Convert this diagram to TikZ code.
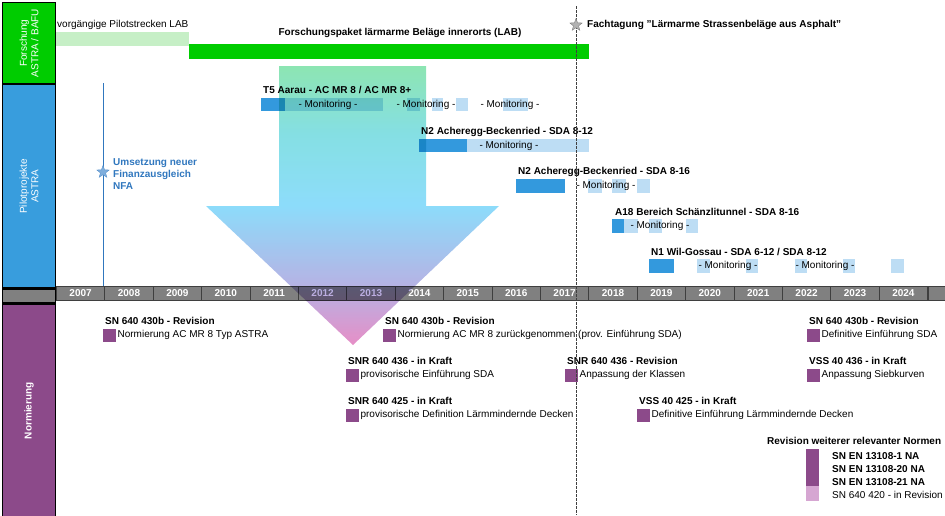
\documentclass[tikz,border=0pt]{standalone}
\usepackage{fontspec}
\setmainfont{Liberation Sans}
\usetikzlibrary{positioning}
\usetikzlibrary{shapes.geometric}

\definecolor{forschgreen}{HTML}{00CC00}
\definecolor{forschlight}{HTML}{C6EFC6}
\definecolor{pilotblue}{HTML}{389DDD}
\definecolor{pilotdark}{HTML}{3399DD}
\definecolor{pilotlight}{HTML}{BDDDF4}
\definecolor{yeargray}{HTML}{808080}
\definecolor{yeardark}{HTML}{3F3F3F}
\definecolor{normviolet}{HTML}{8C4A8A}
\definecolor{normlight}{HTML}{D6A6D2}
\definecolor{nfablue}{HTML}{3077BE}
\definecolor{starblue}{HTML}{7FAEDC}
\definecolor{agreen}{HTML}{80E2AA}
\definecolor{ateal}{HTML}{78DCE0}
\definecolor{ablue}{HTML}{80D8FA}
\definecolor{alilac}{HTML}{B0A8E0}
\definecolor{apink}{HTML}{E482C0}

\pgfdeclareverticalshading{arrowgrad}{100bp}{color(0bp)=(apink); color(25bp)=(apink);
  color(35bp)=(alilac); color(50bp)=(ablue); color(63bp)=(ateal); color(75bp)=(agreen);
  color(100bp)=(agreen)}

\begin{document}
\begin{tikzpicture}[x=1pt,y=-1pt,
    every node/.style={font=\fontsize{10}{11.5}\selectfont},
    lane/.style={draw=black,line width=1.2pt,anchor=north west,minimum width=53pt,inner sep=0pt},
    lanetext/.style={rotate=90,text=white,align=center,inner sep=0pt},
    yearcell/.style={draw=yeardark,line width=0.8pt,fill=yeargray,text=white,anchor=north west,
      font=\fontsize{10}{12}\selectfont\bfseries,minimum width=48.4pt,minimum height=14pt,inner sep=0pt},
    ttl/.style={anchor=west,inner sep=0pt,font=\fontsize{10}{12}\selectfont\bfseries},
    txt/.style={anchor=west,inner sep=0pt},
    mon/.style={inner sep=0pt},
    normsq/.style={fill=normviolet,anchor=north west,minimum width=13pt,minimum height=13pt,inner sep=0pt},
    mstar/.style={star,star points=5,star point ratio=2.4,minimum size=13pt,inner sep=0pt},
  ]
  \useasboundingbox (0,0) rectangle (945,515);

  % lanes on the left
  \node[lane,fill=forschgreen,minimum height=81pt] (forsch) at (2,2) {};
  \node[lane,fill=pilotblue,minimum height=203pt,below=0pt of forsch] (pilot) {};
  \node[lane,fill=yeargray,minimum height=14pt,below=0pt of pilot] (yleft) {};
  \node[lane,fill=normviolet,minimum height=213pt,below=0pt of yleft] (norm) {};
  \node[lanetext] (forschlbl) at (forsch) {Forschung\\ASTRA / BAFU};
  \node[lanetext] (pilotlbl) at (pilot) {Pilotprojekte\\ASTRA};
  \node[lanetext,font=\fontsize{10}{12}\selectfont\bfseries] (normlbl) at (norm) {Normierung};

  % years
  \foreach \yr [count=\k from 0] in {2007,...,2024}
    \node[yearcell] (y\yr) at ({56+\k*48.4},286) {\yr};
  \node[yearcell,minimum width=24pt] (yend) at (y2024.north east) {};

  % Forschung
  \fill[forschlight] (56,32) rectangle (189,46);
  \fill[forschgreen] (189,44) rectangle (589,59);
  \node[txt] (prelab) at (57,25) {vorgängige Pilotstrecken LAB};
  \node[ttl,anchor=center] (lab) at (400,33) {Forschungspaket lärmarme Beläge innerorts (LAB)};

  % NFA
  \coordinate (nfatop) at (103,83);
  \coordinate (nfabot) at (103,286);
  \draw[nfablue,line width=0.8pt] (nfatop) -- (nfabot);
  \node[mstar,fill=starblue,draw=nfablue!80,line width=0.4pt] (nfastar) at (103,172) {};
  \node[ttl,text=nfablue,align=left] (nfa) at (113,174) {Umsetzung neuer\\Finanzausgleich\\NFA};

  % Pilotprojekte
  \fill[pilotdark] (261,98) rectangle (285,111);
  \foreach \a/\b in {285/383,407/420,432/443,456/468,503/528}
    \fill[pilotlight] (\a,98) rectangle (\b,111);
  \node[ttl] (t5) at (263,90) {T5 Aarau - AC MR 8 / AC MR 8+};
  \node[mon] (t5m1) at (328,104.5) {- Monitoring -};
  \node[mon] (t5m2) at (426,104.5) {- Monitoring -};
  \node[mon] (t5m3) at (510,104.5) {- Monitoring -};

  \fill[pilotdark] (419,139) rectangle (467,152);
  \fill[pilotlight] (467,139) rectangle (589,152);
  \node[ttl] (n2a) at (421,132) {N2 Acheregg-Beckenried - SDA 8-12};
  \node[mon] (n2am) at (509,145.5) {- Monitoring -};

  \fill[pilotdark] (516,179) rectangle (565,193);
  \foreach \a/\b in {588/602,612/626,637/650}
    \fill[pilotlight] (\a,179) rectangle (\b,193);
  \node[ttl] (n2b) at (518,172) {N2 Acheregg-Beckenried - SDA 8-16};
  \node[mon] (n2bm) at (606,186) {- Monitoring -};

  \fill[pilotdark] (612,219) rectangle (624,233);
  \foreach \a/\b in {624/638,649/662,686/698}
    \fill[pilotlight] (\a,219) rectangle (\b,233);
  \node[ttl] (a18) at (615,212) {A18 Bereich Schänzlitunnel - SDA 8-16};
  \node[mon] (a18m) at (660,226) {- Monitoring -};

  \fill[pilotdark] (649,259) rectangle (674,273);
  \foreach \a/\b in {697/710,746/758,795/807,843/855,891/904}
    \fill[pilotlight] (\a,259) rectangle (\b,273);
  \node[ttl] (n1) at (651,252) {N1 Wil-Gossau - SDA 6-12 / SDA 8-12};
  \node[mon] (n1m1) at (728,266) {- Monitoring -};
  \node[mon] (n1m2) at (825,266) {- Monitoring -};

  % Normierung
  \foreach \nx/\ny/\nn/\nt/\nd in {
      103/321/a/{SN 640 430b - Revision}/{Normierung AC MR 8 Typ ASTRA},
      383/321/b/{SN 640 430b - Revision}/{Normierung AC MR 8 zurückgenommen (prov. Einführung SDA)},
      346/361/c/{SNR 640 436 - in Kraft}/{provisorische Einführung SDA},
      346/401/d/{SNR 640 425 - in Kraft}/{provisorische Definition Lärmmindernde Decken},
      565/361/e/{SNR 640 436 - Revision}/{Anpassung der Klassen},
      637/401/f/{VSS 40 425 - in Kraft}/{Definitive Einführung Lärmmindernde Decken},
      807/321/g/{SN 640 430b - Revision}/{Definitive Einführung SDA},
      807/361/h/{VSS 40 436 - in Kraft}/{Anpassung Siebkurven}}
  {
    \node[ttl] (t\nn) at (\nx+2,\ny) {\nt};
    \node[normsq] (s\nn) at (\nx,\ny+7.5) {};
    \node[txt,xshift=1pt] (d\nn) at (s\nn.east) {\nd};
  }

  \node[ttl] (rev) at (767,441) {Revision weiterer relevanter Normen};
  \fill[normviolet] (806,449) rectangle (819,486);
  \fill[normlight] (806,486) rectangle (819,501);
  \node[ttl] (en1) at (832,456) {SN EN 13108-1 NA};
  \node[ttl] (en20) at (832,469) {SN EN 13108-20 NA};
  \node[ttl] (en21) at (832,482) {SN EN 13108-21 NA};
  \node[txt] (sn420) at (832,495) {SN 640 420 - in Revision};

  % Fachtagung
  \coordinate (fttop) at (576,6);
  \coordinate (ftbot) at (576,515);
  \draw[yeardark,line width=0.8pt,dash pattern=on 2.5pt off 1.5pt] (fttop) -- (ftbot);
  \node[mstar,fill=gray!60,draw=gray,line width=0.4pt] (ftstar) at (576,25) {};
  \node[ttl] (ft) at (587,25) {Fachtagung "Lärmarme Strassenbeläge aus Asphalt"};

  % big arrow
  \begin{scope}[blend mode=multiply]
    \shade[shading=arrowgrad,opacity=0.9] (279,66) -- (426,66) -- (426,206) -- (499,206)
      -- (353,345) -- (206,206) -- (279,206) -- cycle;
  \end{scope}
\end{tikzpicture}
\end{document}
